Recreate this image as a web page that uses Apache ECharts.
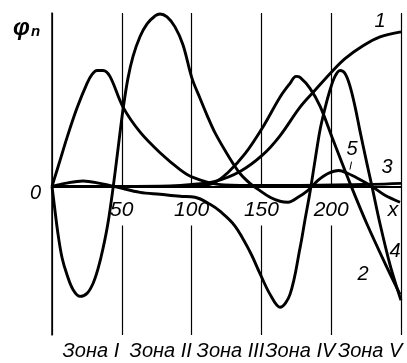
<!DOCTYPE html>
<html>
<head>
<meta charset="utf-8">
<script src="https://cdn.jsdelivr.net/npm/echarts@6/dist/echarts.min.js"></script>
<style>
  html, body { margin: 0; padding: 0; background: #fff; }
  #chart { width: 407px; height: 363px; }
</style>
</head>
<body>
<div id="chart"></div>
<script>
  // подписи оси x и зон
  var xTicks = [50, 100, 150, 200]
  var zoneCenters = [25, 75, 125, 175, 225]
  var zoneLabels = ['Зона I', 'Зона II', 'Зона III', 'Зона IV', 'Зона V']
  var curveNames = ['1', '2', '3', '4', '5']

  // кривые φn(x), пары [x, φ]
  var phi1 = [[0, 0], [48.7, 0], [84.5, 0.005], [100.3, 0.02], [116.8, 0.05], [134.7, 0.15], [151.1, 0.32],
    [163.3, 0.51], [177.7, 0.8], [188.4, 0.97], [200.6, 1.16], [209.9, 1.29], [222.8, 1.42], [235, 1.51], [250, 1.56]]
  var phi2 = [[0, 0], [70.2, 0], [98.5, 0], [109.2, 0.01], [116.8, 0.04], [126.1, 0.14], [138.3, 0.33],
    [151.1, 0.6], [163.3, 0.9], [170.5, 1.04], [174.8, 1.11], [177.7, 1.1], [184.8, 0.99], [192, 0.81],
    [201.3, 0.47], [213.5, 0.03], [225.6, -0.38], [240, -0.82], [249.3, -1.09]]
  var phi3 = [[0, 0], [5.7, 0.26], [10.7, 0.49], [17.9, 0.79], [25.1, 1.04], [28.7, 1.13], [32.2, 1.17],
    [36.5, 1.17], [41.5, 1.11], [50.9, 0.8], [63, 0.55], [77.4, 0.34], [91.7, 0.17], [101, 0.09],
    [118.9, 0.02], [141.8, 0.01], [177.7, 0.01], [229.2, 0.02], [250, 0.03]]
  var phi4 = [[0, 0], [9.3, 0.03], [22.2, 0.055], [34.4, 0.03], [47.3, -0.01], [63, -0.06], [77.4, -0.08],
    [91.7, -0.1], [102.4, -0.11], [113.2, -0.18], [120.3, -0.25], [131.1, -0.4], [141.8, -0.66], [149, -0.88],
    [156.2, -1.09], [163.3, -1.22], [170.5, -1.09], [177.7, -0.62], [181.2, -0.34], [184.8, -0.06],
    [188.4, 0.26], [192, 0.57], [195.6, 0.79], [199.1, 0.97], [202.7, 1.11], [206.3, 1.17], [209.9, 1.14],
    [213.5, 1.01], [217, 0.81], [220.6, 0.56], [225.6, 0.23], [229.2, 0], [235, -0.38], [242.1, -0.79],
    [247.9, -1.06], [250, -1.15]]
  var phi5 = [[0, 0], [1.4, -0.16], [4.3, -0.48], [7.2, -0.72], [10.7, -0.89], [15, -1.04], [20.1, -1.11],
    [25.1, -1.08], [29.4, -0.98], [33, -0.83], [36.5, -0.63], [40.1, -0.37], [43.7, -0.02], [47.3, 0.38],
    [50.9, 0.78], [54.4, 1.09], [58, 1.31], [63, 1.51], [68.1, 1.64], [73.8, 1.72], [77.4, 1.74], [82.4, 1.71],
    [88.1, 1.61], [93.8, 1.43], [100.3, 1.09], [106, 0.89], [111, 0.72], [116.8, 0.54], [127.5, 0.28],
    [134.7, 0.13], [141.8, 0.03], [147.6, -0.03], [156.2, -0.11], [163.3, -0.15], [169.1, -0.16],
    [176.2, -0.11], [183.4, -0.04], [190.5, 0.06], [197.7, 0.13], [205.5, 0.16], [212, 0.13], [219.2, 0.08],
    [229.2, 0], [238.5, -0.09], [249.3, -0.16]]

  var curves = [phi1, phi2, phi3, phi4, phi5]
  var labelAt = [[235, 1.66], [222.8, -0.89], [240, 0.19], [245.7, -0.66], [214.9, 0.37]]
  var font = "'Liberation Sans', Arial, sans-serif"

  var chart = echarts.init(document.getElementById('chart'))

  var series = curves.map(function (d, i) {
    var s = {
      name: curveNames[i],
      type: 'line',
      data: d,
      smooth: 0.35,
      showSymbol: false,
      z: 3,
      lineStyle: { color: '#000', width: 2.9 },
      markPoint: {
        symbol: 'circle',
        symbolSize: 0,
        data: [{ coord: labelAt[i] }],
        label: {
          show: true,
          position: 'inside',
          formatter: curveNames[i],
          color: '#000',
          fontSize: 20,
          fontStyle: 'italic',
          fontFamily: font
        }
      }
    }
    if (i === 4) {
      // выноска к метке 5
      s.markLine = {
        silent: true,
        symbol: ['none', 'none'],
        label: { show: false },
        lineStyle: { color: '#000', width: 1, type: 'solid' },
        data: [[{ coord: [214.6, 0.25] }, { coord: [213.4, 0.17] }]]
      }
    }
    return s
  })

  // нулевая линия и подписи зон под графиком
  series.push({
    name: 'zones',
    type: 'line',
    data: [],
    silent: true,
    z: 2,
    markLine: {
      silent: true,
      symbol: ['none', 'none'],
      label: { show: false },
      lineStyle: { color: '#000', width: 2, type: 'solid' },
      data: [{ yAxis: 0 }]
    },
    markPoint: {
      symbol: 'circle',
      symbolSize: 0,
      data: zoneCenters.map(function (c, k) {
        return { coord: [c, -1.5], value: zoneLabels[k] }
      }),
      label: {
        show: true,
        position: 'inside',
        offset: [4, 16],
        formatter: function (p) { return p.value },
        color: '#000',
        fontSize: 20,
        fontStyle: 'italic',
        fontFamily: font
      }
    }
  })

  var option = {
    animation: false,
    backgroundColor: '#fff',
    title: {
      text: '{a|φ}{b|n}',
      left: 8,
      top: 11,
      textStyle: {
        rich: {
          a: { fontSize: 24, fontWeight: 'bold', fontStyle: 'italic', fontFamily: font, color: '#000' },
          b: { fontSize: 15, fontWeight: 'bold', fontStyle: 'italic', fontFamily: font, color: '#000', padding: [8, 0, 0, 1] }
        }
      }
    },
    grid: { left: 52, right: 6, top: 13, bottom: 28, outerBoundsMode: 'none', containLabel: false },
    xAxis: {
      type: 'value',
      min: 0,
      max: 250,
      interval: 50,
      axisLine: { show: false, onZero: false },
      axisTick: { show: false },
      splitLine: { show: true, lineStyle: { color: '#000', width: 1.2 } },
      axisLabel: {
        showMinLabel: false,
        margin: -139,
        formatter: function (v) {
          if (v === 250) return '{x|x}'
          return xTicks.indexOf(v) >= 0 ? '{n|' + v + '}' : ''
        },
        rich: {
          n: { fontSize: 21, fontStyle: 'italic', fontFamily: font, color: '#000', backgroundColor: '#fff', padding: [12, 1, 5, 1], lineHeight: 21 },
          x: { fontSize: 21, fontStyle: 'italic', fontFamily: font, color: '#000', padding: [12, 16, 5, 0], lineHeight: 21 }
        }
      }
    },
    yAxis: {
      type: 'value',
      min: -1.5,
      max: 1.75,
      interval: 0.25,
      axisLine: { show: true, lineStyle: { color: '#000', width: 1.5 } },
      axisTick: { show: false },
      splitLine: { show: false },
      axisLabel: {
        margin: 11,
        fontSize: 20,
        fontStyle: 'italic',
        fontFamily: font,
        color: '#000',
        verticalAlign: 'top',
        lineHeight: 14,
        formatter: function (v) { return v === 0 ? '0' : '' }
      }
    },
    series: series
  }

  chart.setOption(option)
</script>
</body>
</html>
